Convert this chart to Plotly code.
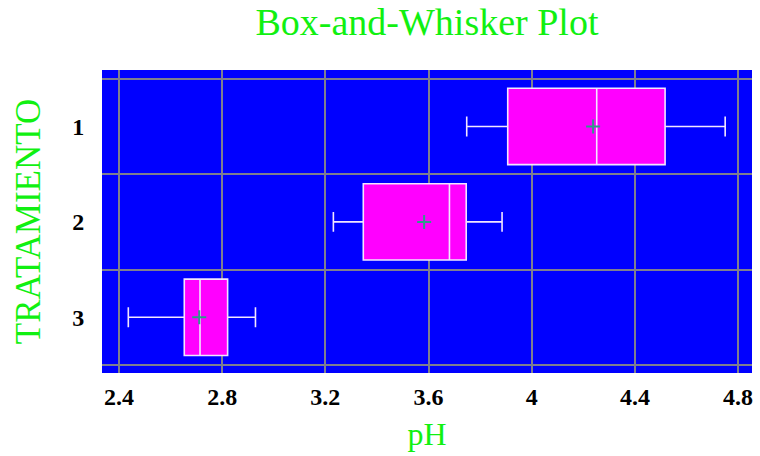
import plotly.graph_objects as go

# Data
treatments = [1, 2, 3]
tick_labels = ["1", "2", "3"]
lower_whisker = [3.748, 3.231, 2.436]
q1_vals = [3.907, 3.347, 2.653]
median_vals = [4.252, 3.681, 2.714]
q3_vals = [4.517, 3.746, 2.821]
upper_whisker = [4.750, 3.885, 2.929]
mean_vals = [4.238, 3.583, 2.711]
x_ticks = [2.4, 2.8, 3.2, 3.6, 4.0, 4.4, 4.8]
x_tick_text = ["2.4", "2.8", "3.2", "3.6", "4", "4.4", "4.8"]

serif = "Liberation Serif, Times New Roman, serif"
green = "#11f011"
grid = "#7f7f8f"

FIG_W, FIG_H = 760, 456

fig = go.Figure()
fig.add_trace(go.Box(
    y=treatments,
    q1=q1_vals,
    median=median_vals,
    q3=q3_vals,
    lowerfence=lower_whisker,
    upperfence=upper_whisker,
    orientation="h",
    fillcolor="#ff00ff",
    line=dict(color="#f2e6ff", width=1.6),
    width=0.8,
    whiskerwidth=0.26,
    boxpoints=False,
    showlegend=False,
    hoverinfo="skip",
))
fig.add_trace(go.Scatter(
    x=mean_vals,
    y=treatments,
    mode="markers",
    marker=dict(symbol="cross-thin", size=10, line=dict(color="#2e9a8a", width=2)),
    showlegend=False,
    hoverinfo="skip",
))

fig.update_layout(
    width=FIG_W,
    height=FIG_H,
    margin=dict(l=102, r=8, t=70, b=83, autoexpand=False),
    paper_bgcolor="white",
    plot_bgcolor="#0000ff",
    title=dict(
        text="Box-and-Whisker Plot",
        font=dict(family=serif, size=38, color=green),
        x=0.5, xref="paper", xanchor="center",
        y=1 - 22 / FIG_H, yref="container", yanchor="middle",
        automargin=False,
    ),
)

fig.update_xaxes(
    range=[2.334, 4.854],
    tickvals=x_ticks,
    ticktext=x_tick_text,
    showgrid=True,
    gridcolor=grid,
    gridwidth=2,
    zeroline=False,
    showline=False,
    ticks="outside",
    ticklen=2,
    tickcolor="rgba(0,0,0,0)",
    tickfont=dict(family=serif, size=24, color="black", weight="bold"),
    ticklabeloverflow="allow",
    automargin=False,
    title=dict(text="pH", font=dict(family=serif, size=32, color=green), standoff=13),
)

fig.update_yaxes(
    range=[3.584, 0.408],
    tickvals=treatments,
    ticktext=tick_labels,
    showgrid=False,
    zeroline=False,
    showline=False,
    ticks="outside",
    ticklen=12,
    tickcolor="rgba(0,0,0,0)",
    tickfont=dict(family=serif, size=24, color="black", weight="bold"),
    minor=dict(tickvals=[0.5, 1.5, 2.5, 3.5], showgrid=True, gridcolor=grid, gridwidth=2, ticks=""),
    automargin=False,
    title=dict(text="TRATAMIENTO", font=dict(family=serif, size=35, color=green), standoff=20),
)

# remove the browser's default 8px page margin so the figure fills the window
fig.write_html(
    "out.html",
    config={"displayModeBar": False},
    post_script="document.body.style.margin='0';",
)
